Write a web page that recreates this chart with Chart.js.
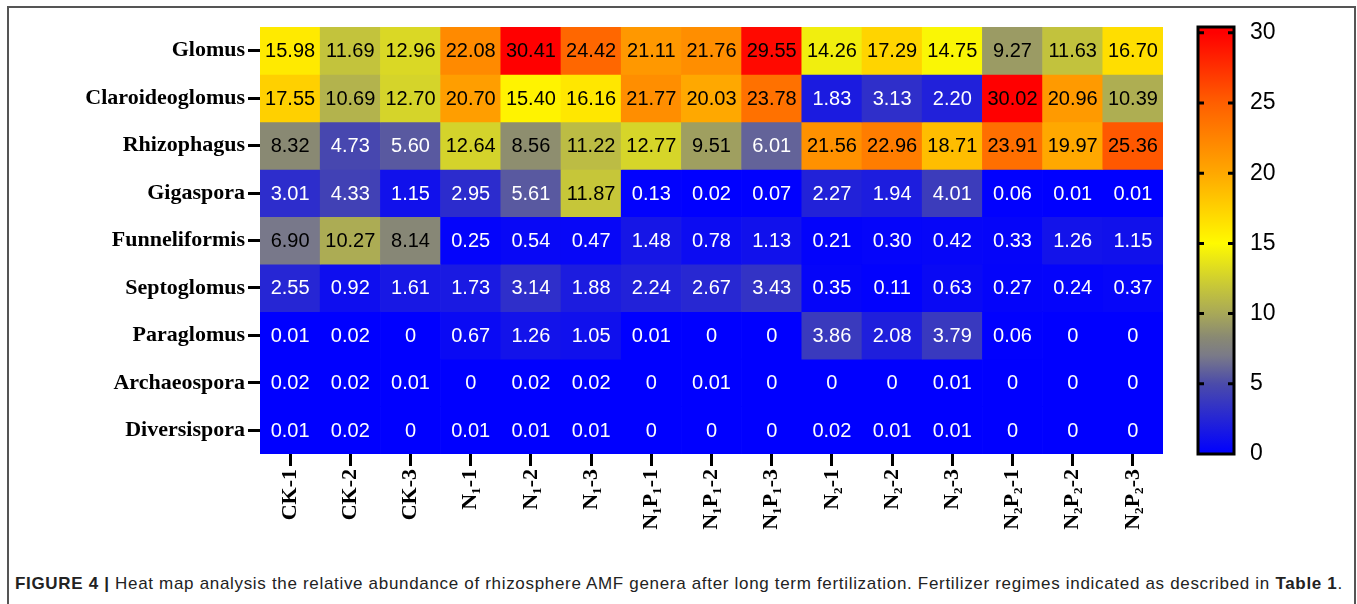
<!DOCTYPE html>
<html>
<head>
<meta charset="utf-8">
<script src="https://cdn.jsdelivr.net/npm/chart.js@4.4.0/dist/chart.umd.min.js"></script>
<style>
html, body { margin: 0; padding: 0; background: #fff; width: 1357px; height: 604px; overflow: hidden; }
#frame { position: absolute; left: 7px; top: 6px; width: 1349px; height: 640px; border: 2px solid #555; box-sizing: border-box; }
#heat { position: absolute; left: 0; top: 0; }
#scale { position: absolute; left: 1180px; top: 0; }
#caption { position: absolute; left: 15px; top: 574px; font: 17px "Liberation Sans", Arial, sans-serif; letter-spacing: 0.68px; color: #222; white-space: nowrap; }
</style>
</head>
<body>
<div id="frame"></div>
<canvas id="heat" width="1180" height="560"></canvas>
<canvas id="scale" width="130" height="560"></canvas>
<div id="caption"><b>FIGURE 4 |</b> Heat map analysis the relative abundance of rhizosphere AMF genera after long term fertilization. Fertilizer regimes indicated as described in <b>Table 1</b>.</div>
<script>
// rows of the heat map (top to bottom)
var genera = ['Glomus', 'Claroideoglomus', 'Rhizophagus', 'Gigaspora', 'Funneliformis',
              'Septoglomus', 'Paraglomus', 'Archaeospora', 'Diversispora'];
// columns (fertilizer regime replicates)
var samples = ['CK-1', 'CK-2', 'CK-3', 'N₁-1', 'N₁-2', 'N₁-3', 'N₁P₁-1', 'N₁P₁-2', 'N₁P₁-3',
               'N₂-1', 'N₂-2', 'N₂-3', 'N₂P₂-1', 'N₂P₂-2', 'N₂P₂-3'];

var glomus          = [15.98, 11.69, 12.96, 22.08, 30.41, 24.42, 21.11, 21.76, 29.55, 14.26, 17.29, 14.75, 9.27, 11.63, 16.70];
var claroideoglomus = [17.55, 10.69, 12.70, 20.70, 15.40, 16.16, 21.77, 20.03, 23.78, 1.83, 3.13, 2.20, 30.02, 20.96, 10.39];
var rhizophagus     = [8.32, 4.73, 5.60, 12.64, 8.56, 11.22, 12.77, 9.51, 6.01, 21.56, 22.96, 18.71, 23.91, 19.97, 25.36];
var gigaspora       = [3.01, 4.33, 1.15, 2.95, 5.61, 11.87, 0.13, 0.02, 0.07, 2.27, 1.94, 4.01, 0.06, 0.01, 0.01];
var funneliformis   = [6.90, 10.27, 8.14, 0.25, 0.54, 0.47, 1.48, 0.78, 1.13, 0.21, 0.30, 0.42, 0.33, 1.26, 1.15];
var septoglomus     = [2.55, 0.92, 1.61, 1.73, 3.14, 1.88, 2.24, 2.67, 3.43, 0.35, 0.11, 0.63, 0.27, 0.24, 0.37];
var paraglomus      = [0.01, 0.02, 0, 0.67, 1.26, 1.05, 0.01, 0, 0, 3.86, 2.08, 3.79, 0.06, 0, 0];
var archaeospora    = [0.02, 0.02, 0.01, 0, 0.02, 0.02, 0, 0.01, 0, 0, 0, 0.01, 0, 0, 0];
var diversispora    = [0.01, 0.02, 0, 0.01, 0.01, 0.01, 0, 0, 0, 0.02, 0.01, 0.01, 0, 0, 0];

var rows = [glomus, claroideoglomus, rhizophagus, gigaspora, funneliformis,
            septoglomus, paraglomus, archaeospora, diversispora];

// colour bar ticks
var scaleTicks = [0, 5, 10, 15, 20, 25, 30];

// colour gradient (value -> rgb)
var stops = [
    [0, [0, 0, 255]],
    [5, [75, 75, 170]],
    [7, [122, 122, 136]],
    [8.3, [137, 137, 115]],
    [10, [168, 168, 88]],
    [12, [200, 200, 55]],
    [15, [255, 250, 0]],
    [20, [255, 168, 0]],
    [25, [255, 95, 0]],
    [30, [255, 0, 0]]
];
// colour bar runs up to the largest value in the table
var dataMax = Math.max.apply(null, rows.map(function (r) { return Math.max.apply(null, r); }));

function rgb(c) { return 'rgb(' + c.join(',') + ')'; }

function heatColor(v) {
    v = Math.max(0, v);
    for (var k = 1; k < stops.length; k++) {
        if (v <= stops[k][0]) {
            var a = stops[k - 1], b = stops[k];
            var t = (v - a[0]) / (b[0] - a[0]);
            return rgb(a[1].map(function (c, i) { return Math.round(c + (b[1][i] - c) * t); }));
        }
    }
    return rgb(stops[stops.length - 1][1]);
}

var serif = '"Liberation Serif", "Times New Roman", serif';
var sans = '"Liberation Sans", Arial, sans-serif';

// writes the value in every cell
var cellText = {
    id: 'cellText',
    afterDatasetsDraw: function (chart) {
        var ctx = chart.ctx;
        ctx.save();
        ctx.font = '20px ' + sans;
        ctx.textAlign = 'center';
        ctx.textBaseline = 'middle';
        chart.data.datasets.forEach(function (ds, i) {
            chart.getDatasetMeta(i).data.forEach(function (bar, j) {
                var v = ds.values[j];
                ctx.fillStyle = v > 6.5 ? '#000' : '#fff';
                ctx.fillText(v === 0 ? '0' : v.toFixed(2), bar.x, (bar.y + bar.base) / 2 + 1);
            });
        });
        ctx.restore();
    }
};

var datasets = rows.map(function (vals, i) {
    return {
        label: genera[i],
        data: vals.map(function () { return [i, i + 1]; }),
        values: vals,
        backgroundColor: vals.map(heatColor),
        borderWidth: 0,
        barPercentage: 1,
        categoryPercentage: 1,
        grouped: false
    };
});

new Chart(document.getElementById('heat'), {
    type: 'bar',
    data: { labels: samples, datasets: datasets },
    options: {
        responsive: false,
        animation: false,
        layout: { padding: { top: 27, right: 17, left: 0, bottom: 0 } },
        plugins: { legend: { display: false }, tooltip: { enabled: false } },
        scales: {
            x: {
                grid: { offset: false, drawOnChartArea: false, tickLength: 12, tickWidth: 3, tickColor: '#000' },
                border: { display: false },
                ticks: { minRotation: 90, maxRotation: 90, autoSkip: false, padding: 3, color: '#000',
                         font: { family: serif, weight: 'bold', size: 22 } },
                afterFit: function (s) { s.height = 560 - 454; }
            },
            y: {
                type: 'linear', reverse: true, min: 0, max: genera.length,
                afterBuildTicks: function (s) {
                    s.ticks = genera.map(function (g, i) { return { value: i + 0.5 }; });
                },
                grid: { drawOnChartArea: false, tickLength: 12, tickWidth: 3, tickColor: '#000' },
                border: { display: false },
                ticks: { autoSkip: false, padding: 3, color: '#000',
                         font: { family: serif, weight: 'bold', size: 22 },
                         callback: function (v) { return genera[Math.floor(v)]; } },
                afterFit: function (s) { s.width = 260; }
            }
        }
    },
    plugins: [cellText]
});

// frame and inner tick marks of the colour bar
var barFrame = {
    id: 'barFrame',
    afterDatasetsDraw: function (chart) {
        var ctx = chart.ctx, a = chart.chartArea, y = chart.scales.y;
        ctx.save();
        ctx.strokeStyle = '#000';
        ctx.lineWidth = 3;
        ctx.strokeRect(a.left, a.top, a.right - a.left, a.bottom - a.top);
        scaleTicks.forEach(function (t) {
            if (t === 0) return;
            var py = y.getPixelForValue(t);
            ctx.beginPath();
            ctx.moveTo(a.left, py); ctx.lineTo(a.left + 6, py);
            ctx.moveTo(a.right - 6, py); ctx.lineTo(a.right, py);
            ctx.stroke();
        });
        ctx.restore();
    }
};

new Chart(document.getElementById('scale'), {
    type: 'bar',
    data: {
        labels: [''],
        datasets: [{
            data: [[0, dataMax]],
            backgroundColor: function (c) {
                var a = c.chart.chartArea;
                if (!a) return 'blue';
                var g = c.chart.ctx.createLinearGradient(0, a.bottom, 0, a.top);
                stops.forEach(function (s) { g.addColorStop(Math.min(1, s[0] / dataMax), rgb(s[1])); });
                return g;
            },
            borderWidth: 0,
            barPercentage: 1,
            categoryPercentage: 1
        }]
    },
    options: {
        responsive: false,
        animation: false,
        layout: { padding: { left: 18, top: 27, bottom: 106, right: 0 } },
        plugins: { legend: { display: false }, tooltip: { enabled: false } },
        scales: {
            x: { display: false },
            y: {
                position: 'right', min: 0, max: dataMax,
                afterBuildTicks: function (s) {
                    s.ticks = scaleTicks.map(function (t) { return { value: t }; });
                },
                grid: { display: false },
                border: { display: false },
                ticks: { color: '#000', padding: 8, font: { family: sans, size: 23 } },
                afterFit: function (s) { s.width = 76; }
            }
        }
    },
    plugins: [barFrame]
});
</script>
</body>
</html>
